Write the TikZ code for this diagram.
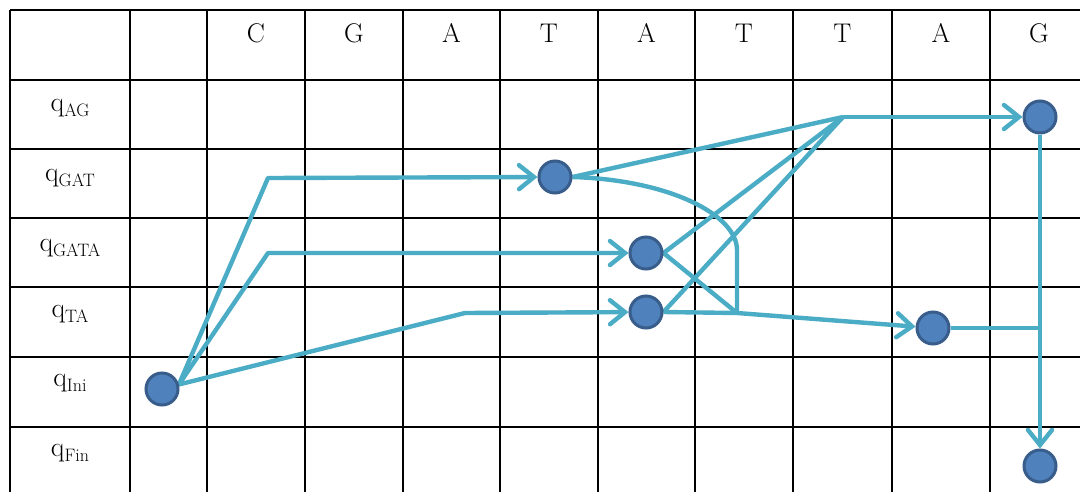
\documentclass[tikz,border=0pt]{standalone}
\usetikzlibrary{arrows.meta}
\pgfdeclarelayer{bg}
\pgfsetlayers{bg,main}
\definecolor{flowc}{HTML}{4BACC6}
\definecolor{dotfill}{HTML}{4F81BD}
\definecolor{dotline}{HTML}{385D8A}
\newcommand\qsub[1]{\raisebox{-5pt}{\fontsize{18}{20}\selectfont #1}}
\begin{document}
\begin{tikzpicture}[x=1pt,y=-1pt,
  gridline/.style={line width=2.5pt,black},
  dot/.style={circle,minimum size=32pt,inner sep=0pt,fill=dotfill,draw=dotline,line width=3pt},
  flow/.style={draw=flowc,line width=4.4pt,line join=round},
  arr/.style={flow,-{Straight Barb[length=15pt,width=24pt,line cap=round]}},
  head/.style={anchor=base,inner sep=0pt,font=\fontsize{27}{30}\selectfont},
  lab/.style={anchor=base,inner sep=0pt,font=\fontsize{28}{30}\selectfont}]
\useasboundingbox (0,0) rectangle (1080,491);

% table grid on a white ground
\begin{pgfonlayer}{bg}
\fill[white] (0,0) rectangle (1080,491);
\foreach \x in {10,130,207,305,403,500,598,695,793,892,990}
  \draw[gridline] (\x,10) -- (\x,496);
\foreach \y in {10,80,149,218,287,357,427}
  \draw[gridline] (10,\y) -- (1086,\y);
\end{pgfonlayer}

% column headers
\foreach \x/\c in {256/C,354/G,451.5/A,549/T,646.5/A,744/T,842.5/T,941/A,1039/G}
  \node[head] at (\x,42) {\c};

% row labels
\node[lab] (lAG)   at (70,111) {q\qsub{AG}};
\node[lab] (lGAT)  at (70,181) {q\qsub{GAT}};
\node[lab] (lGATA) at (70,251) {q\qsub{GATA}};
\node[lab] (lTA)   at (70,317) {q\qsub{TA}};
\node[lab] (lIni)  at (70,386) {q\qsub{Ini}};
\node[lab] (lFin)  at (70,456) {q\qsub{Fin}};

% states
\node[dot] (Ini)  at (162,389) {};
\node[dot] (GAT)  at (555,177) {};
\node[dot] (GATA) at (646,253) {};
\node[dot] (TA)   at (646,312) {};
\node[dot] (TAb)  at (933,328) {};
\node[dot] (AG)   at (1040,117) {};
\node[dot] (Fin)  at (1040,466) {};

% bend and junction points
\coordinate (b1)  at (268,178);
\coordinate (b2)  at (268,253);
\coordinate (b3)  at (465,313);
\coordinate (hub) at (843,117);
\coordinate (J)   at (737,313);
\coordinate (K)   at (1040,328);

\begin{pgfonlayer}{bg}
\draw[arr] (Ini.15) -- (b1) -- (GAT);
\draw[arr] (Ini.15) -- (b2) -- (GATA);
\draw[arr] (Ini.15) -- (b3) -- (TA);
\draw[flow] (GAT.east) -- (hub);
\draw[flow] (GATA.east) -- (hub);
\draw[flow] (TA.east) -- (hub);
\draw[arr] (hub) -- (AG);
\draw[flow] (GAT.east) .. controls (670,180) and (737,215) .. (737,250) -- (J);
\draw[flow] (GATA.east) -- (J);
\draw[flow] (TA.east) -- (J);
\draw[arr] (J) -- (TAb);
\draw[flow] (TAb.east) -- (K);
\draw[arr] (AG.south) -- (Fin);
\end{pgfonlayer}
\end{tikzpicture}
\end{document}
